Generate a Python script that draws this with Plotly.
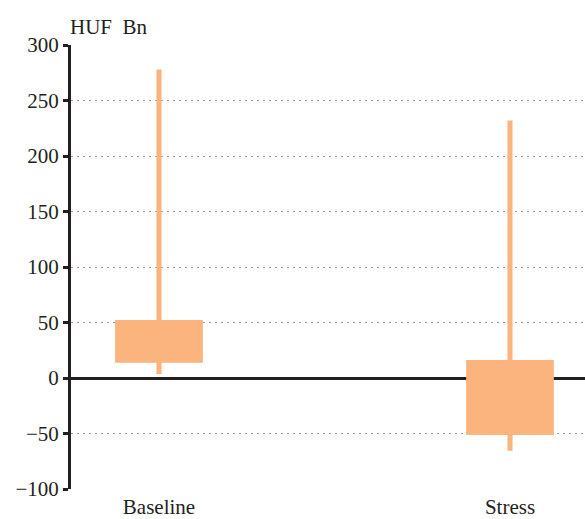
import plotly.graph_objects as go

categories = ["Baseline", "Stress"]
whisker_low = [3.6, -65.5]
whisker_high = [278, 232]
box_low = [13.8, -51.4]
box_high = [52.2, 16.2]
y_ticks = [-100, -50, 0, 50, 100, 150, 200, 250, 300]

color = "#FBB47E"
dark = "#231F20"
serif = "Liberation Serif, Times New Roman, serif"
xpos = list(range(len(categories)))

fig = go.Figure()
fig.add_trace(go.Bar(
    x=xpos, y=[h - l for h, l in zip(whisker_high, whisker_low)], base=whisker_low,
    width=0.0145, marker=dict(color=color, line=dict(width=0)), showlegend=False,
    hoverinfo="skip",
))
fig.add_trace(go.Bar(
    x=xpos, y=[h - l for h, l in zip(box_high, box_low)], base=box_low,
    width=0.25, marker=dict(color=color, line=dict(width=0)), showlegend=False,
    hoverinfo="skip",
))

fig.update_layout(
    width=585, height=519,
    margin=dict(l=71, r=0, t=45, b=30, autoexpand=False),
    paper_bgcolor="white", plot_bgcolor="white",
    barmode="overlay",
    font=dict(family=serif, size=21, color=dark),
    xaxis=dict(
        range=[-0.2507, 1.2137], tickmode="array", tickvals=xpos, ticktext=categories,
        showgrid=False, zeroline=False, showline=False, ticks="",
        tickfont=dict(family=serif, size=21), ticklabelstandoff=3,
    ),
    yaxis=dict(
        range=[-100, 300], tickmode="array", tickvals=y_ticks,
        ticktext=[("\u2212" + str(abs(v))) if v < 0 else str(v) for v in y_ticks],
        showgrid=True, gridcolor="#9A9A9A", griddash="2px,4px", gridwidth=1,
        zeroline=True, zerolinecolor=dark, zerolinewidth=3,
        showline=True, linecolor=dark, linewidth=3,
        ticks="outside", ticklen=5, tickwidth=3, tickcolor=dark,
        tickfont=dict(family=serif, size=21),
    ),
    annotations=[dict(
        text="HUF  Bn", xref="paper", yref="paper", x=0, y=1, xshift=-3, yshift=4,
        xanchor="left", yanchor="bottom", showarrow=False,
        font=dict(family=serif, size=21, color=dark),
    )],
)

fig.write_html(
    "out.html",
    config={"displayModeBar": False},
    post_script="document.body.style.margin='0';document.body.style.overflow='hidden';",
)
